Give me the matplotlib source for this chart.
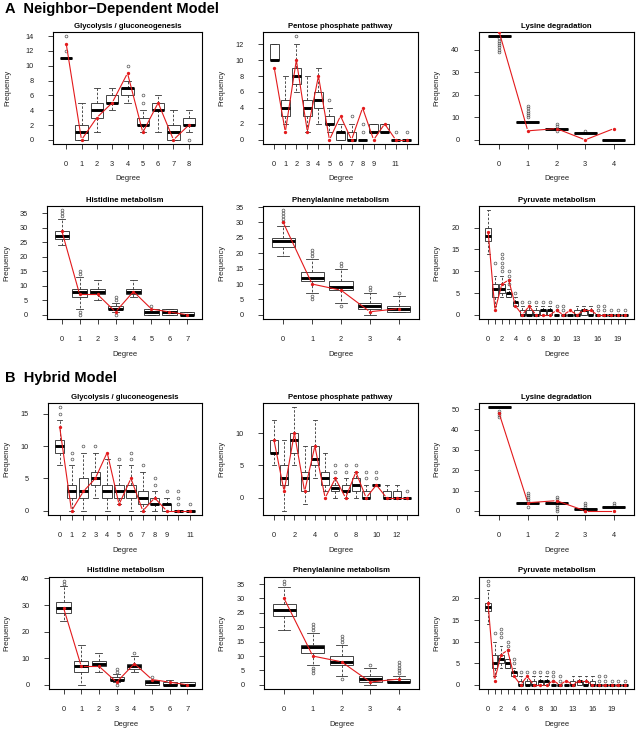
import matplotlib

matplotlib.use("Agg")
import matplotlib.pyplot as plt  # noqa: E402
import numpy as np  # noqa: E402

plt.rcParams["font.family"] = ["Liberation Sans", "DejaVu Sans"]

W, H = 638, 730
RED = "#e31a1c"

# ---------------- A: Neighbor-Dependent Model ----------------
# Glycolysis / gluconeogenesis
a_gly_lo = [11, 0, 1, 4, 5, 1, 1, 0, 1]
a_gly_q1 = [11, 0, 3, 5, 6, 2, 4, 0, 2]
a_gly_med = [11, 1, 4, 5, 7, 2, 4, 1, 2]
a_gly_q3 = [11, 2, 5, 6, 7, 3, 5, 2, 3]
a_gly_hi = [11, 5, 7, 7, 8, 4, 6, 4, 4]
a_gly_fl = [[12, 14], [], [], [], [10], [5, 6], [], [], [0]]
a_gly_obs = [13, 0, 3, 5, 9, 1, 5, 0, 2]

# Pentose phosphate pathway
a_pen_lo = [10, 2, 6, 1, 2, 1, 0, 0, 0, 1, 1, 0, 0]
a_pen_q1 = [10, 3, 7, 3, 4, 2, 0, 0, 0, 1, 1, 0, 0]
a_pen_med = [10, 4, 8, 4, 5, 2, 1, 0, 0, 1, 1, 0, 0]
a_pen_q3 = [12, 5, 9, 5, 6, 3, 1, 1, 0, 2, 2, 0, 0]
a_pen_hi = [12, 8, 12, 8, 9, 4, 2, 2, 0, 2, 2, 0, 0]
a_pen_fl = [[], [], [13], [], [], [5], [], [3], [1, 2], [], [], [1], [1]]
a_pen_obs = [9, 1, 10, 1, 8, 0, 3, 0, 4, 0, 2, 0, 0]

# Lysine degradation
a_lys_med = [46, 8, 5, 3, 0]
a_lys_fl = [[39, 40, 41, 42, 43, 44, 45], [10, 11, 12, 13, 14, 15], [4, 6, 7], [4], []]
a_lys_obs = [48, 4, 5, 0, 5]

# Histidine metabolism
a_his_lo = [24, 2, 5, 1, 6, 0, 0, 0]
a_his_q1 = [26, 6, 7, 2, 7, 0, 0, 0]
a_his_med = [27, 8, 8, 2, 8, 1, 1, 0]
a_his_q3 = [29, 9, 9, 3, 9, 2, 2, 1]
a_his_hi = [33, 13, 12, 4, 12, 2, 2, 1]
a_his_fl = [[34, 35, 36], [0, 1, 14, 15], [], [0, 5, 6], [], [3], [], []]
a_his_obs = [29, 7, 7, 1, 8, 2, 1, 0]

# Phenylalanine metabolism
a_phe_lo = [19, 7, 4, 0, 1]
a_phe_q1 = [22, 11, 8, 2, 1]
a_phe_med = [24, 12, 9, 3, 2]
a_phe_q3 = [25, 14, 11, 4, 3]
a_phe_hi = [29, 18, 15, 7, 6]
a_phe_fl = [[30, 31, 32, 33, 34], [5, 6, 19, 20, 21], [3, 16, 17], [8, 9], [7]]
a_phe_obs = [30, 10, 8, 1, 2]

# Pyruvate metabolism
a_pyr_lo = [14, 2, 4, 4, 2, 0, 0, 0, 0, 0, 0, 0, 0, 0, 0, 0, 0, 0, 0, 0, 0]
a_pyr_q1 = [17, 4, 5, 4, 2, 0, 0, 0, 0, 0, 0, 0, 0, 0, 0, 0, 0, 0, 0, 0, 0]
a_pyr_med = [18, 6, 6, 5, 3, 0, 0, 0, 1, 1, 0, 0, 0, 0, 1, 0, 0, 0, 0, 0, 0]
a_pyr_q3 = [20, 7, 7, 5, 3, 1, 1, 1, 1, 1, 0, 0, 0, 1, 1, 1, 0, 0, 0, 0, 0]
a_pyr_hi = [24, 9, 9, 6, 4, 2, 2, 2, 2, 2, 0, 0, 0, 2, 2, 2, 0, 0, 0, 0, 0]
a_pyr_fl = [[], [12], [10, 11, 12, 13, 14], [7, 8, 9, 10], [5], [3], [3], [3], [3], [3],
            [1, 2], [1, 2], [], [], [], [], [1, 2], [1, 2], [1], [1], [1]]
a_pyr_obs = [19, 1, 7, 8, 2, 0, 2, 0, 0, 0, 1, 0, 1, 0, 1, 1, 0, 0, 0, 0, 0]

# ---------------- B: Hybrid Model ----------------
b_gly_lo = [7, 0, 0, 2, 0, 1, 0, 0, 0, 0, 0, 0]
b_gly_q1 = [9, 2, 2, 4, 2, 2, 2, 1, 1, 0, 0, 0]
b_gly_med = [10, 3, 3, 5, 3, 3, 3, 2, 1, 1, 0, 0]
b_gly_q3 = [11, 4, 5, 6, 4, 4, 4, 3, 2, 1, 0, 0]
b_gly_hi = [14, 7, 9, 9, 8, 7, 7, 6, 3, 2, 0, 0]
b_gly_fl = [[15, 16], [8, 9], [10], [10], [], [8], [8, 9], [7], [4, 5], [3], [1, 2, 3], [1]]
b_gly_obs = [13, 0, 3, 5, 9, 1, 5, 0, 2, 0, 0, 0]

b_pen_lo = [5, -2, 5, -1, 3, 1, 0, 0, 0, 0, 2, 0, 0, 0]
b_pen_q1 = [7, 2, 7, 1, 5, 2, 1, 1, 1, 0, 2, 0, 0, 0]
b_pen_med = [7, 3, 9, 3, 6, 3, 1.5, 1, 2, 0, 2, 0, 0, 0]
b_pen_q3 = [9, 5, 10, 4, 8, 4, 2, 2, 3, 1, 2, 1, 1, 0]
b_pen_hi = [12, 9, 14, 8, 12, 7, 3, 3, 4, 2, 2, 2, 2, 0]
b_pen_fl = [[], [], [], [], [], [], [4, 5], [4, 5], [5], [3, 4], [3, 4], [], [], [1]]
b_pen_obs = [9, 1, 10, 1, 8, 0, 3, 0, 4, 0, 2, 0, 0, 0]

b_lys_med = [51, 4, 4, 1, 2]
b_lys_fl = [[46, 47, 48, 49], [2, 5, 6, 7, 8, 9], [0, 1, 2, 3, 5, 6, 7], [0, 2, 3, 4], [3, 4]]
b_lys_obs = [48, 4, 5, 0, 0]

b_his_lo = [24, 0, 5, 1, 5, 0, 0, 0]
b_his_q1 = [27, 5, 7, 2, 6, 0, 0, 0]
b_his_med = [29, 7, 8, 2, 7, 1, 0, 0]
b_his_q3 = [31, 9, 9, 3, 8, 2, 1, 1]
b_his_hi = [37, 15, 12, 4, 11, 2, 2, 1]
b_his_fl = [[38, 39], [], [], [0, 5, 6], [12], [3], [], []]
b_his_obs = [29, 7, 7, 1, 8, 2, 1, 0]

b_phe_lo = [19, 7, 3, 0, 1]
b_phe_q1 = [24, 11, 7, 1, 1]
b_phe_med = [26, 13, 8, 2, 1]
b_phe_q3 = [28, 14, 10, 3, 2]
b_phe_hi = [34, 18, 14, 6, 3]
b_phe_fl = [[35, 36], [4, 5, 6, 19, 20, 21], [2, 15, 16, 17], [7], [4, 5, 6, 7, 8]]
b_phe_obs = [30, 10, 8, 1, 2]

b_pyr_lo = [14, 2, 4, 4, 2, 0, 0, 0, 0, 0, 0, 0, 0, 0, 0, 0, 0, 0, 0, 0, 0, 0]
b_pyr_q1 = [17, 4, 5, 4, 2, 0, 0, 0, 0, 0, 0, 0, 0, 0, 0, 0, 0, 0, 0, 0, 0, 0]
b_pyr_med = [18, 5, 6, 5, 3, 0, 0, 0, 1, 1, 0, 0, 0, 0, 1, 0, 0, 0, 0, 0, 0, 0]
b_pyr_q3 = [19, 7, 7, 6, 3, 1, 1, 1, 1, 1, 0, 0, 0, 1, 1, 1, 1, 0, 0, 0, 0, 0]
b_pyr_hi = [22, 10, 9, 6, 4, 2, 2, 2, 2, 2, 0, 0, 0, 2, 2, 2, 2, 0, 0, 0, 0, 0]
b_pyr_fl = [[23, 24], [12], [11, 12, 13], [8, 9, 10], [5, 6], [3], [3], [3], [3], [3],
            [1, 2, 3], [1, 2], [], [], [], [], [], [1, 2], [1, 2], [1], [1], [1]]
b_pyr_obs = [19, 1, 7, 8, 2, 0, 2, 0, 0, 0, 1, 0, 1, 0, 1, 1, 0, 0, 0, 0, 0, 0]

# tick labels that R managed to print without overlap
lab_all = None
lab_pen_a = [0, 1, 2, 3, 4, 5, 6, 7, 8, 9, 11]
lab_pen_b = [0, 2, 4, 6, 8, 10, 12]
lab_gly_b = [0, 1, 2, 3, 4, 5, 6, 7, 8, 9, 11]
lab_pyr = [0, 2, 4, 6, 8, 10, 13, 16, 19]


def gapped_line(ax, xs, ys, gap=2.6):
    # mimic R's type="b": segments stop short of each point
    trans = ax.transData
    pts = trans.transform(np.column_stack([xs, ys]))
    inv = trans.inverted()
    for p0, p1 in zip(pts[:-1], pts[1:]):
        d = p1 - p0
        L = np.hypot(*d)
        if L <= 2 * gap:
            continue
        u = d / L
        seg = inv.transform(np.array([p0 + u * gap, p1 - u * gap]))
        ax.plot(seg[:, 0], seg[:, 1], color=RED, linewidth=0.8, zorder=6)
    ax.plot(xs, ys, linestyle="none", color=RED, marker="o", markersize=2.4,
            markeredgewidth=0, zorder=7)


def draw_panel(fig, rect, ylab_x, title, lo, q1, med, q3, hi, fliers, obs, yticks, shown):
    left, top, right, bottom = rect
    ax = fig.add_axes([left / W, 1 - bottom / H, (right - left) / W, (bottom - top) / H])
    n = len(med)
    pos = list(range(n))
    stats = [
        dict(whislo=a, q1=b, med=c, q3=d, whishi=e, fliers=f)
        for a, b, c, d, e, f in zip(lo, q1, med, q3, hi, fliers)
    ]
    ax.bxp(
        stats,
        positions=pos,
        widths=0.8,
        capwidths=0.4,
        patch_artist=True,
        manage_ticks=False,
        boxprops=dict(facecolor="white", edgecolor="#444444", linewidth=0.7),
        medianprops=dict(color="black", linewidth=2.1, solid_capstyle="butt"),
        whiskerprops=dict(color="#333333", linewidth=0.6, linestyle=(0, (3, 2))),
        capprops=dict(color="#333333", linewidth=0.6),
        flierprops=dict(marker="o", markerfacecolor="none", markeredgecolor="#555555",
                        markersize=2.0, markeredgewidth=0.5),
    )

    vals = list(lo) + list(hi) + [v for f in fliers for v in f]
    ymin, ymax = min(vals), max(vals)
    pad = 0.04 * (ymax - ymin)
    ax.set_ylim(ymin - pad, ymax + pad)
    ax.set_xlim(-0.5 - 0.04 * n, n - 0.5 + 0.04 * n)

    gapped_line(ax, pos, obs)

    ax.set_yticks(yticks)
    ax.set_yticklabels([str(t) for t in yticks])
    ax.set_xticks(pos)
    if shown is None:
        shown = pos
    ax.set_xticklabels([str(d) if d in shown else "" for d in pos])
    ax.tick_params(axis="both", length=3.5, width=0.6, labelsize=5.3, colors="#222222")
    ax.tick_params(axis="y", pad=10.5)
    ax.tick_params(axis="x", pad=8.5)
    for s in ax.spines.values():
        s.set_linewidth(0.8)

    cx = (left + right) / 2
    fig.text(cx / W, 1 - (top - 6) / H, title, ha="center", va="center",
             fontsize=5.6, fontweight="bold")
    fig.text(cx / W, 1 - (bottom + 35) / H, "Degree", ha="center", va="center",
             fontsize=5.5, color="#222222")
    fig.text(ylab_x / W, 1 - (top + bottom) / 2 / H, "Frequency", ha="center",
             va="center", rotation=90, fontsize=5.5, color="#222222")
    return ax


def main():
    fig = plt.figure(figsize=(W / 100, H / 100), dpi=100)

    fig.text(5 / W, 1 - 9 / H, "A  Neighbor\u2212Dependent Model", ha="left", va="center",
             fontsize=10.5, fontweight="bold")
    fig.text(5 / W, 1 - 378 / H, "B  Hybrid Model", ha="left", va="center",
             fontsize=10.5, fontweight="bold")

    r1, r2, r3, r4 = (32, 144), (206, 319), (403, 515), (577, 689)

    draw_panel(fig, (53, r1[0], 202, r1[1]), 8, "Glycolysis / gluconeogenesis",
               a_gly_lo, a_gly_q1, a_gly_med, a_gly_q3, a_gly_hi, a_gly_fl, a_gly_obs,
               list(range(0, 15, 2)), lab_all)
    draw_panel(fig, (263, r1[0], 418, r1[1]), 222, "Pentose phosphate pathway",
               a_pen_lo, a_pen_q1, a_pen_med, a_pen_q3, a_pen_hi, a_pen_fl, a_pen_obs,
               list(range(0, 13, 2)), lab_pen_a)
    draw_panel(fig, (479, r1[0], 634, r1[1]), 437, "Lysine degradation",
               a_lys_med, a_lys_med, a_lys_med, a_lys_med, a_lys_med, a_lys_fl, a_lys_obs,
               [0, 10, 20, 30, 40], lab_all)

    draw_panel(fig, (47, r2[0], 202, r2[1]), 7, "Histidine metabolism",
               a_his_lo, a_his_q1, a_his_med, a_his_q3, a_his_hi, a_his_fl, a_his_obs,
               list(range(0, 36, 5)), lab_all)
    draw_panel(fig, (263, r2[0], 419, r2[1]), 222, "Phenylalanine metabolism",
               a_phe_lo, a_phe_q1, a_phe_med, a_phe_q3, a_phe_hi, a_phe_fl, a_phe_obs,
               list(range(0, 36, 5)), lab_all)
    draw_panel(fig, (479, r2[0], 634, r2[1]), 437, "Pyruvate metabolism",
               a_pyr_lo, a_pyr_q1, a_pyr_med, a_pyr_q3, a_pyr_hi, a_pyr_fl, a_pyr_obs,
               [0, 5, 10, 15, 20], lab_pyr)

    draw_panel(fig, (48, r3[0], 202, r3[1]), 7, "Glycolysis / gluconeogenesis",
               b_gly_lo, b_gly_q1, b_gly_med, b_gly_q3, b_gly_hi, b_gly_fl, b_gly_obs,
               [0, 5, 10, 15], lab_gly_b)
    draw_panel(fig, (263, r3[0], 418, r3[1]), 222, "Pentose phosphate pathway",
               b_pen_lo, b_pen_q1, b_pen_med, b_pen_q3, b_pen_hi, b_pen_fl, b_pen_obs,
               [0, 5, 10], lab_pen_b)
    draw_panel(fig, (479, r3[0], 634, r3[1]), 437, "Lysine degradation",
               b_lys_med, b_lys_med, b_lys_med, b_lys_med, b_lys_med, b_lys_fl, b_lys_obs,
               [0, 10, 20, 30, 40, 50], lab_all)

    draw_panel(fig, (49, r4[0], 202, r4[1]), 7, "Histidine metabolism",
               b_his_lo, b_his_q1, b_his_med, b_his_q3, b_his_hi, b_his_fl, b_his_obs,
               [0, 10, 20, 30, 40], lab_all)
    draw_panel(fig, (264, r4[0], 419, r4[1]), 222, "Phenylalanine metabolism",
               b_phe_lo, b_phe_q1, b_phe_med, b_phe_q3, b_phe_hi, b_phe_fl, b_phe_obs,
               list(range(0, 36, 5)), lab_all)
    draw_panel(fig, (479, r4[0], 634, r4[1]), 437, "Pyruvate metabolism",
               b_pyr_lo, b_pyr_q1, b_pyr_med, b_pyr_q3, b_pyr_hi, b_pyr_fl, b_pyr_obs,
               [0, 5, 10, 15, 20], lab_pyr)

    fig.savefig("out.png", dpi=100)


if __name__ == "__main__":
    main()
